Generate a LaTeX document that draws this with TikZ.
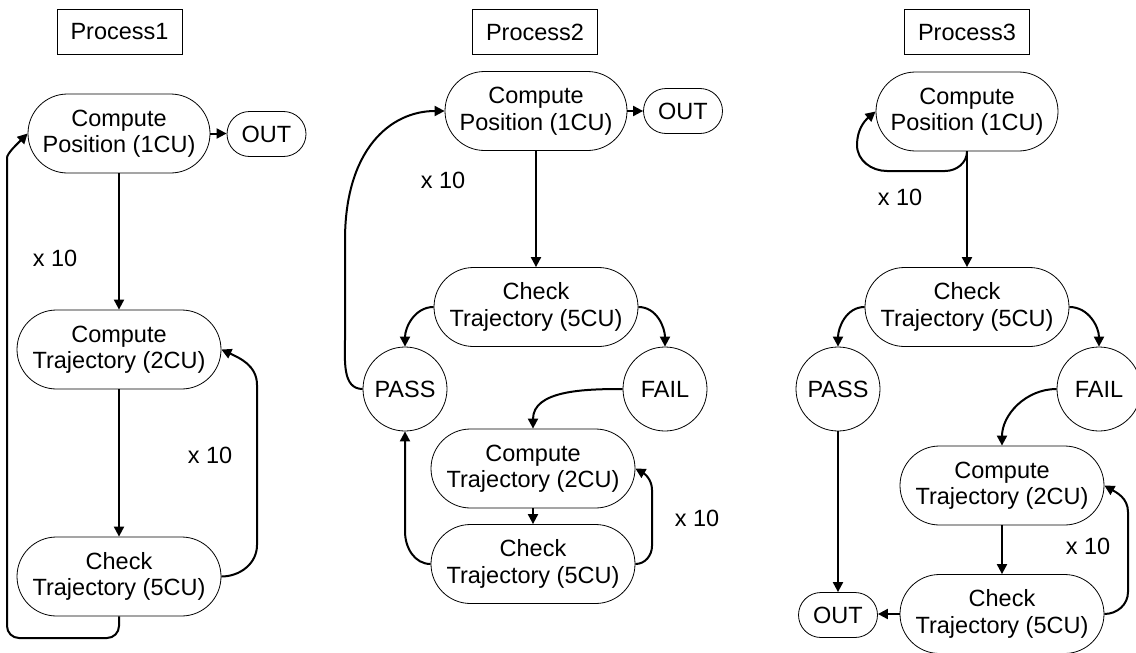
\documentclass[tikz,border=0pt]{standalone}
\usepackage{fontspec}
\setmainfont{Liberation Sans}
\usetikzlibrary{arrows.meta}
\begin{document}
\begin{tikzpicture}[x=1pt,y=1pt,
  base/.style={draw, line width=0.8pt, align=center, inner sep=0pt, font=\fontsize{23.5}{26.5}\selectfont},
  titlebox/.style={base, minimum width=125pt, minimum height=45pt},
  wide/.style={base, rounded corners=39.5pt, minimum width=204pt, minimum height=79pt},
  posbox/.style={base, rounded corners=39.5pt, minimum width=182pt, minimum height=79pt},
  outbox/.style={base, rounded corners=22.5pt, minimum width=79pt, minimum height=45pt},
  res/.style={base, circle, minimum size=84pt},
  lbl/.style={font=\fontsize{23.5}{26.5}\selectfont, inner sep=0pt},
  arr/.style={-{Triangle[length=10pt,width=10pt]}, line width=2pt}]
\useasboundingbox (0,0) rectangle (1136,-653);

% Process 1
\node[titlebox] (P1t) at (119.5,-32) {Process1};
\node[posbox] (CP1) at (119,-133.5) {Compute\\Position (1CU)};
\node[outbox] (OUT1) at (266.5,-134) {OUT};
\node[wide] (CT1) at (119,-349.5) {Compute\\Trajectory (2CU)};
\node[wide] (CK1) at (119,-576.5) {Check\\Trajectory (5CU)};
\node[lbl] (L1a) at (55,-258) {x 10};
\node[lbl] (L1b) at (210,-455) {x 10};

\draw[arr] (CP1.east) -- (CP1.east -| OUT1.west);
\draw[arr] (CP1.south) -- (CT1.north);
\draw[arr] (CT1.south) -- (CK1.north);
\draw[arr] (CK1.east) to[out=0,in=-90] (257,-545) -- (257,-385) to[out=90,in=-25] (CT1.east);
\draw[arr, rounded corners=12pt] (CK1.south) -- (119,-638) -- (7,-638) -- (7,-170) to[out=90,in=-135] (CP1.west);

% Process 2
\node[titlebox] (P2t) at (535,-32) {Process2};
\node[posbox] (CP2) at (536,-111) {Compute\\Position (1CU)};
\node[outbox] (OUT2) at (683,-111) {OUT};
\node[wide] (CK2a) at (536,-307) {Check\\Trajectory (5CU)};
\node[res] (PASS2) at (405,-389) {PASS};
\node[res] (FAIL2) at (665,-389) {FAIL};
\node[wide] (CT2) at (533,-468.5) {Compute\\Trajectory (2CU)};
\node[wide] (CK2b) at (533,-564) {Check\\Trajectory (5CU)};
\node[lbl] (L2a) at (443,-180) {x 10};
\node[lbl] (L2b) at (697,-518) {x 10};

\draw[arr] (CP2.east) -- (OUT2.west);
\draw[arr] (CP2.south) -- (CK2a.north);
\draw[arr] (CK2a.west) to[out=180,in=90] (PASS2.north);
\draw[arr] (CK2a.east) to[out=0,in=90] (FAIL2.north);
\draw[arr] (FAIL2.west) to[out=180,in=90] (CT2.north);
\draw[arr] (CT2.south) -- (CK2b.north);
\draw[arr] (CK2b.east) to[out=0,in=-90] (652,-546) -- (652,-490) to[out=90,in=-30] (CT2.east);
\draw[arr] (CK2b.west) to[out=180,in=-90] ([yshift=-100pt]PASS2.south) -- (PASS2.south);
\draw[arr] (PASS2.west) to[out=180,in=-90] (345,-340) -- (345,-240) .. controls (345,-150) and (390,-111) .. (CP2.west);

% Process 3
\node[titlebox] (P3t) at (967,-32) {Process3};
\node[posbox] (CP3) at (967,-111.5) {Compute\\Position (1CU)};
\node[wide] (CK3a) at (967,-307) {Check\\Trajectory (5CU)};
\node[res] (PASS3) at (838,-389) {PASS};
\node[res] (FAIL3) at (1099,-389) {FAIL};
\node[wide] (CT3) at (1002,-485.5) {Compute\\Trajectory (2CU)};
\node[wide] (CK3b) at (1002,-614) {Check\\Trajectory (5CU)};
\node[outbox] (OUT3) at (838,-615) {OUT};
\node[lbl] (L3a) at (900,-197) {x 10};
\node[lbl] (L3b) at (1088,-546) {x 10};

\draw[arr] (CP3.south) -- (CK3a.north);
\draw[arr] (CP3.south) to[out=-90,in=0] (945,-171) -- (887,-171) to[out=180,in=-90] (857,-145) to[out=90,in=-140] (CP3.west);
\draw[arr] (CK3a.west) to[out=180,in=90] (PASS3.north);
\draw[arr] (CK3a.east) to[out=0,in=90] (FAIL3.north);
\draw[arr] (FAIL3.west) to[out=180,in=90] (CT3.north);
\draw[arr] (CT3.south) -- (CK3b.north);
\draw[arr] (PASS3.south) -- (OUT3.north);
\draw[arr] (CK3b.west) -- (CK3b.west -| OUT3.east);
\draw[arr] (CK3b.east) to[out=0,in=-90] (1128,-592) -- (1128,-512) to[out=90,in=-30] (CT3.east);
\end{tikzpicture}
\end{document}
